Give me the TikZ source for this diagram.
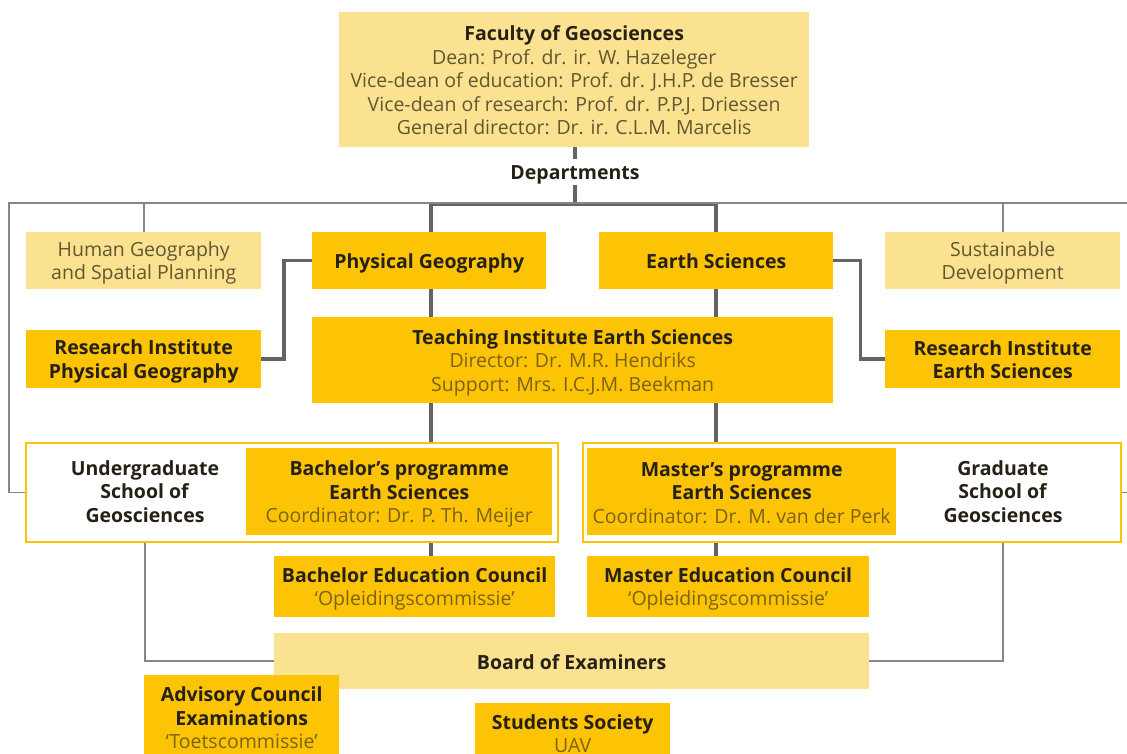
\documentclass[tikz,border=0pt]{standalone}
\usepackage{fontspec}
\setmainfont{Open Sans}
\definecolor{uuyel}{RGB}{252,196,4}
\definecolor{uulight}{RGB}{251,226,145}
\definecolor{txtdark}{RGB}{38,32,22}
\definecolor{txtgrey}{RGB}{98,86,48}
\definecolor{txtbrown}{RGB}{125,98,20}
\definecolor{lnthick}{RGB}{100,100,100}
\definecolor{lnthin}{RGB}{135,135,135}
\newcommand\fs{\fontsize{19.5}{23.5}\selectfont\lineskiplimit=-30pt\relax}
\newcommand\st{\rule[-3.8pt]{0pt}{23.5pt}}
\newcommand\tb[1]{\st\textbf{#1}}
\newcommand\gr[1]{\st\textcolor{txtgrey}{#1}}
\newcommand\br[1]{\st\textcolor{txtbrown}{#1}}
\begin{document}
\begin{tikzpicture}[x=1pt,y=-1pt,
  every node/.style={inner sep=0pt, align=center, font=\fs, text=txtdark},
  dbox/.style={fill=uuyel, anchor=north west},
  lbox/.style={fill=uulight, anchor=north west},
  obox/.style={draw=uuyel, line width=2pt, fill=white, anchor=north west},
  thk/.style={draw=lnthick, line width=3.5pt},
  thn/.style={draw=lnthin, line width=1.6pt}]
\clip (0,0) rectangle (1127,754);
\fill[white] (0,0) rectangle (1127,754);

% faculty
\node[lbox, minimum width=470, minimum height=135] (fac) at (339,12)
  {\tb{Faculty of Geosciences}\\
   \gr{Dean: Prof. dr. ir. W. Hazeleger}\\
   \gr{Vice-dean of education: Prof. dr. J.H.P. de Bresser}\\
   \gr{Vice-dean of research: Prof. dr. P.P.J. Driessen}\\
   \gr{General director: Dr. ir. C.L.M. Marcelis}};
\node[inner sep=1pt] (dept) at (575,172) {\tb{Departments}};

% departments row
\node[lbox, minimum width=235, minimum height=57] (hg) at (26,232)
  {\gr{Human Geography}\\\gr{and Spatial Planning}};
\node[dbox, minimum width=234, minimum height=57] (pg) at (312,232)
  {\tb{Physical Geography}};
\node[dbox, minimum width=234, minimum height=57] (es) at (599,232)
  {\tb{Earth Sciences}};
\node[lbox, minimum width=235, minimum height=57] (sd) at (885,232)
  {\gr{Sustainable}\\\gr{Development}};

% research institutes & teaching institute
\node[dbox, minimum width=235, minimum height=58] (ripg) at (26,330)
  {\tb{Research Institute}\\\tb{Physical Geography}};
\node[dbox, minimum width=235, minimum height=58] (ries) at (885,330)
  {\tb{Research Institute}\\\tb{Earth Sciences}};
\node[dbox, minimum width=521, minimum height=86] (ti) at (312,317)
  {\tb{Teaching Institute Earth Sciences}\\
   \br{Director: Dr. M.R. Hendriks}\\
   \br{Support: Mrs. I.C.J.M. Beekman}};

% schools
\node[obox, minimum width=532, minimum height=99] (ugo) at (25,442) {};
\node[obox, minimum width=538, minimum height=99] (mgo) at (582,442) {};
\node[dbox, minimum width=306, minimum height=87] (ba) at (246,448)
  {\tb{Bachelor’s programme}\\\tb{Earth Sciences}\\
   \br{Coordinator: Dr. P. Th. Meijer}};
\node[dbox, minimum width=309, minimum height=87] (ma) at (587,448)
  {\tb{Master’s programme}\\\tb{Earth Sciences}\\
   \br{Coordinator: Dr. M. van der Perk}};
\node (ugt) at (145,491) {\tb{Undergraduate}\\\tb{School of}\\\tb{Geosciences}};
\node (grt) at (1003,491) {\tb{Graduate}\\\tb{School of}\\\tb{Geosciences}};

% councils
\node[dbox, minimum width=281, minimum height=61] (bec) at (274,556)
  {\tb{Bachelor Education Council}\\\br{‘Opleidingscommissie’}};
\node[dbox, minimum width=282, minimum height=61] (mec) at (587,556)
  {\tb{Master Education Council}\\\br{‘Opleidingscommissie’}};
\node[lbox, minimum width=595, minimum height=56] (boe) at (274,633)
  {\tb{Board of Examiners}};
\node[dbox, minimum width=195, minimum height=84] (acx) at (144,675)
  {\tb{Advisory Council}\\\tb{Examinations}\\\br{‘Toetscommissie’}};
\node[dbox, minimum width=195, minimum height=60] (ss) at (475,703)
  {\tb{Students Society}\\\br{UAV}};

% coordinates
\coordinate (bus) at (575,204);
\coordinate (bl) at (9,203);
\coordinate (brr) at (1131,203);
\coordinate (xl) at (431,0);
\coordinate (xr) at (716,0);

% thick connectors
\draw[thk] (fac.south -| dept) -- (dept.north);
\draw[thk] (dept.south) -- (bus);
\draw[thk] (xl |- pg.north) -- (xl |- bus) -- (xr |- bus) -- (xr |- es.north);
\draw[thk] (xl |- pg.south) -- (xl |- ti.north);
\draw[thk] (xr |- es.south) -- (xr |- ti.north);
\draw[thk] (xl |- ti.south) -- (xl |- ugo.north);
\draw[thk] (xr |- ti.south) -- (xr |- mgo.north);
\draw[thk] (xl |- ugo.south) -- (xl |- bec.north);
\draw[thk] (xr |- mgo.south) -- (xr |- mec.north);
\draw[thk] (pg.west) -- ++(-28,0) |- (ripg.east);
\draw[thk] (es.east) -- ++(27,0) |- (ries.west);

% thin connectors
\draw[thn] (ugo.west) -| (bl) -- (brr) |- (mgo.east);
\draw[thn] (hg.north) -- (hg.north |- bl);
\draw[thn] (sd.north) -- (sd.north |- bl);
\draw[thn] (ugt |- ugo.south) |- (boe.west);
\draw[thn] (grt |- mgo.south) |- (boe.east);
\end{tikzpicture}
\end{document}
